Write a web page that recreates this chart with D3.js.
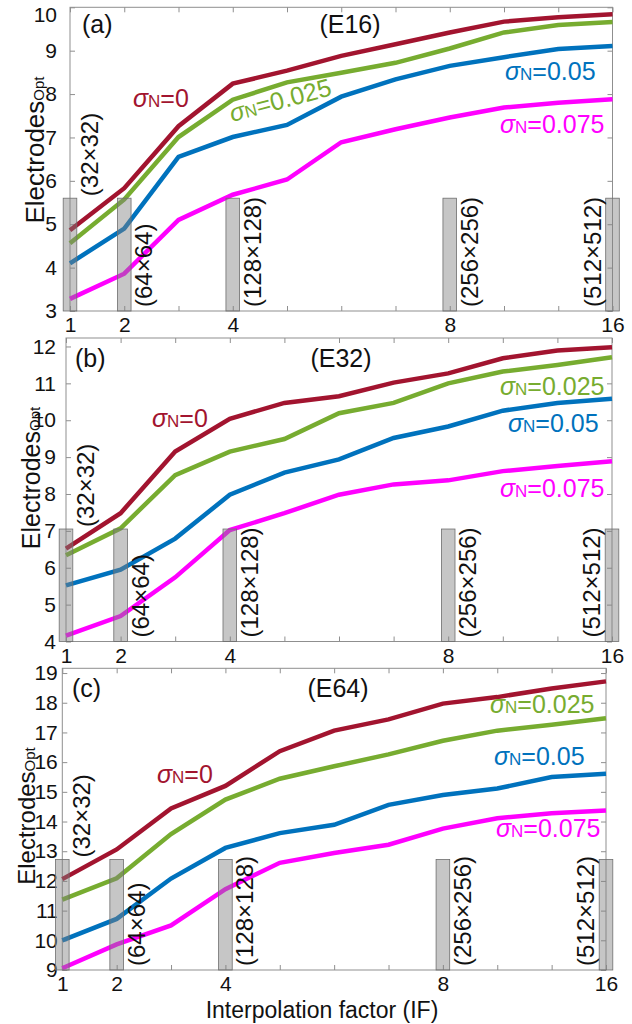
<!DOCTYPE html>
<html><head><meta charset="utf-8">
<script src="https://cdn.jsdelivr.net/npm/d3@7"></script>
<style>body{margin:0;background:#fff} text{font-family:Arial,"Liberation Sans",sans-serif}</style>
</head><body><svg id="chart" width="632" height="1024"></svg>
<script>
// ---------- data ----------
const factors = ["1","2","3","4","5","6","7","8","10","12","16"];
const tickLabels = ["1","2","4","8","16"];
const resolutions = ["(32×32)","(64×64)","(128×128)","(256×256)","(512×512)"];
const sigmaLabels = ["0","0.025","0.05","0.075"];
const panelNames = ["(a)","(b)","(c)"];
const electrodeSets = ["(E16)","(E32)","(E64)"];

const e16_s0     = [4.86,5.83,7.26,8.24,8.54,8.88,9.15,9.42,9.67,9.77,9.84];
const e16_s025   = [4.56,5.57,7.01,7.87,8.27,8.49,8.72,9.05,9.42,9.59,9.66];
const e16_s05    = [4.10,4.90,6.55,7.01,7.29,7.94,8.34,8.65,8.85,9.04,9.11];
const e16_s075   = [3.28,3.86,5.10,5.68,6.03,6.89,7.19,7.46,7.69,7.80,7.88];

const e32_s0     = [6.52,7.48,9.15,10.04,10.47,10.65,11.02,11.27,11.68,11.89,11.98];
const e32_s025   = [6.34,7.07,8.51,9.15,9.49,10.19,10.47,11.00,11.32,11.50,11.71];
const e32_s05    = [5.52,5.95,6.79,7.98,8.58,8.94,9.52,9.83,10.26,10.47,10.58];
const e32_s075   = [4.16,4.69,5.74,7.02,7.48,7.98,8.26,8.37,8.62,8.76,8.89];

const e64_s0     = [12.06,13.06,14.44,15.20,16.37,17.06,17.44,17.97,18.19,18.48,18.72];
const e64_s025   = [11.37,12.09,13.58,14.74,15.44,15.86,16.26,16.72,17.06,17.26,17.48];
const e64_s05    = [10.00,10.72,12.08,13.11,13.61,13.89,14.56,14.89,15.11,15.50,15.61];
const e64_s075   = [9.06,9.86,10.50,11.72,12.61,12.94,13.22,13.76,14.11,14.28,14.37];

const e16_yTicks = [3,4,5,6,7,8,9,10];
const e32_yTicks = [4,5,6,7,8,9,10,11,12];
const e64_yTicks = [9,10,11,12,13,14,15,16,17,18,19];

const resolutionBarTop = [5.6, 7.05, 12.72];   // data units per panel

// ---------- layout / style ----------
const colors = ["#A2142F","#77AC30","#0072BD","#FF00FF"];
const panels = [
  {series:[e16_s0,e16_s025,e16_s05,e16_s075], ticks:e16_yTicks, yMin:3, yMax:10,
   x0:70, x1:612.5, top:7.3, bottom:311, gap:13, topNudge:7,
   nameXY:[82,33], titleXY:[350,33], ylab:[44,150], ylabSize:26,
   sig:[[133,107,0],[232,122,-15],[505,80,0],[500,133,0]]},
  {series:[e32_s0,e32_s025,e32_s05,e32_s075], ticks:e32_yTicks, yMin:4, yMax:12.23,
   x0:66, x1:612, top:338, bottom:641.5, gap:10, topNudge:0,
   nameXY:[75,367], titleXY:[341,367], ylab:[40,478], ylabSize:25,
   sig:[[152,427,0],[500,395,0],[508,432,0],[500,497,0]]},
  {series:[e64_s0,e64_s025,e64_s05,e64_s075], ticks:e64_yTicks, yMin:9, yMax:19.16,
   x0:62.3, x1:606, top:668.3, bottom:970, gap:4.5, topNudge:0,
   nameXY:[72,697], titleXY:[338,697], ylab:[35,816], ylabSize:24,
   sig:[[157,783,0],[490,713,0],[494,765,0],[496,837,0]]}
];
const axisColor = "#8f8f8f";
const svg = d3.select("#chart");
const FONT = "Arial, 'Liberation Sans', sans-serif";

panels.forEach((p, pi) => {
  const x = d3.scalePoint().domain(factors).range([p.x0, p.x1]);
  const y = d3.scaleLinear().domain([p.yMin, p.yMax]).range([p.bottom, p.top]);
  const g = svg.append("g");

  // box
  g.append("rect").attr("x", p.x0).attr("y", p.top)
    .attr("width", p.x1 - p.x0).attr("height", p.bottom - p.top)
    .attr("fill", "none").attr("stroke", axisColor).attr("stroke-width", 1);

  // x ticks (inward, top and bottom)
  const xb = d3.axisBottom(x).tickSizeInner(-5).tickSizeOuter(0)
    .tickFormat(d => tickLabels.includes(d) ? d : "");
  const gxb = g.append("g").attr("transform", `translate(0,${p.bottom})`).call(xb);
  const xt = d3.axisTop(x).tickSizeInner(-5).tickSizeOuter(0).tickFormat("");
  const gxt = g.append("g").attr("transform", `translate(0,${p.top})`).call(xt);
  [gxb, gxt].forEach(a => { a.select(".domain").remove(); a.selectAll("line").attr("stroke", axisColor); });
  gxb.selectAll("text").attr("font-size", 21).attr("fill", "#111").attr("dy", null).attr("y", 21)
     .attr("font-family", FONT);

  // y ticks
  const yl = d3.axisLeft(y).tickValues(p.ticks).tickFormat(d3.format("d"))
    .tickSizeInner(-5).tickSizeOuter(0);
  const gyl = g.append("g").attr("transform", `translate(${p.x0},0)`).call(yl);
  const yr = d3.axisRight(y).tickValues(p.ticks).tickSizeInner(-5).tickSizeOuter(0).tickFormat("");
  const gyr = g.append("g").attr("transform", `translate(${p.x1},0)`).call(yr);
  [gyl, gyr].forEach(a => { a.select(".domain").remove(); a.selectAll("line").attr("stroke", axisColor); });
  gyl.selectAll("text").attr("font-size", 21).attr("fill", "#111").attr("x", -p.gap)
     .attr("font-family", FONT)
     .attr("y", d => d === p.ticks[p.ticks.length - 1] ? p.topNudge : 0);

  // lines
  const line = d3.line().x((d, i) => x(factors[i])).y(d => y(d));
  p.series.forEach((s, si) => {
    g.append("path").datum(s).attr("d", line).attr("fill", "none")
      .attr("stroke", colors[si]).attr("stroke-width", 4.5).attr("stroke-linejoin", "miter");
  });

  // resolution bars (semi-transparent)
  const barTop = y(resolutionBarTop[pi]);
  tickLabels.forEach((t, ti) => {
    g.append("rect").attr("x", x(t) - 6.8).attr("y", barTop)
      .attr("width", 13.6).attr("height", p.bottom - barTop)
      .attr("fill", "#808080").attr("fill-opacity", 0.45)
      .attr("stroke", "#6e6e6e").attr("stroke-width", 0.8);
  });

  // resolution labels (rotated)
  tickLabels.forEach((t, ti) => {
    const last = ti === tickLabels.length - 1;
    const tx = last ? x(t) - 12 : x(t) + 28;
    const ty = ti === 0 ? barTop - 2 : p.bottom - 4;
    g.append("text").attr("transform", `translate(${tx},${ty}) rotate(-90)`)
      .attr("font-size", 24).attr("fill", "#111").text(resolutions[ti]);
  });

  // sigma labels
  p.sig.forEach((pos, si) => {
    const t = g.append("text").attr("transform", `translate(${pos[0]},${pos[1]}) rotate(${pos[2]})`)
      .attr("fill", colors[si]).attr("font-size", 25);
    t.append("tspan").attr("font-style", "italic").text("σ");
    t.append("tspan").attr("font-size", 17).text("N");
    t.append("tspan").text("=" + sigmaLabels[si]);
  });

  // panel name and title
  g.append("text").attr("x", p.nameXY[0]).attr("y", p.nameXY[1]).attr("font-size", 25)
    .attr("fill", "#111").text(panelNames[pi]);
  g.append("text").attr("x", p.titleXY[0]).attr("y", p.titleXY[1]).attr("font-size", 25)
    .attr("text-anchor", "middle").attr("fill", "#111").text(electrodeSets[pi]);

  // y label
  const yt = g.append("text").attr("transform", `translate(${p.ylab[0]},${p.ylab[1]}) rotate(-90)`)
    .attr("text-anchor", "middle").attr("font-size", p.ylabSize).attr("fill", "#111");
  yt.append("tspan").text("Electrodes");
  yt.append("tspan").attr("font-size", 15).text("Opt");
});

// x axis label
svg.append("text").attr("x", 322).attr("y", 1018).attr("text-anchor", "middle")
  .attr("font-size", 23).attr("fill", "#111").text("Interpolation factor (IF)");
</script></body></html>
